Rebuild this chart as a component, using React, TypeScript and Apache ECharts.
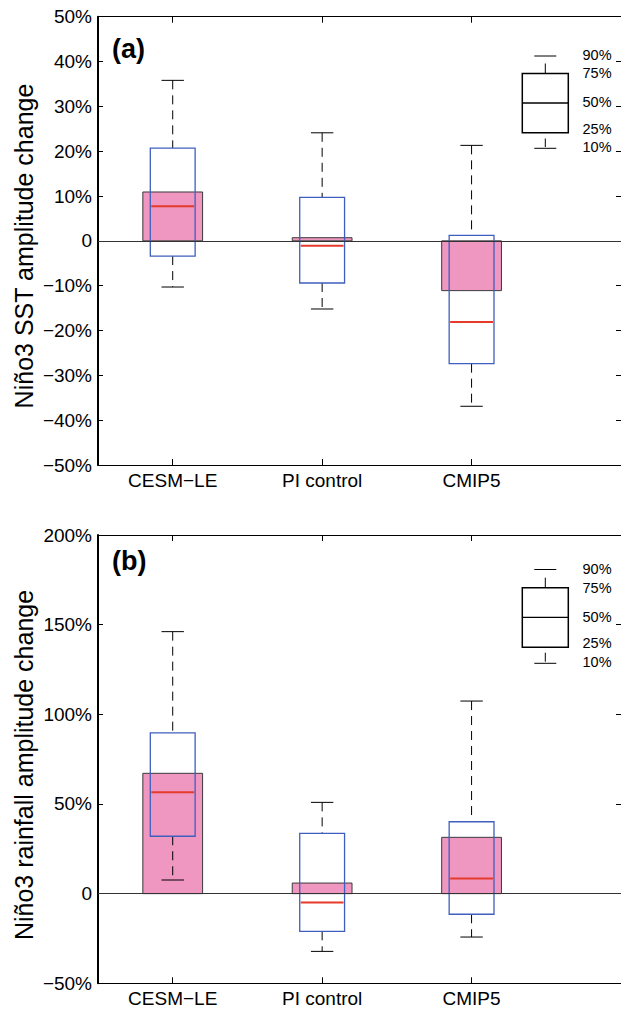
import React, { useEffect, useRef } from "react";
import * as echarts from "echarts";

// ---------- data ----------
const categories = ["CESM\u2212LE", "PI control", "CMIP5"];
const positions = [1, 2, 3];

// (a) Niño3 SST amplitude change (%)
const sstBar = [10.9, 0.7, -11.1];
const sstP10 = [-10.3, -15.2, -36.9];
const sstP25 = [-3.4, -9.4, -27.4];
const sstMedian = [7.7, -1.1, -18.1];
const sstP75 = [20.7, 9.7, 1.2];
const sstP90 = [35.8, 24.1, 21.3];

// (b) Niño3 rainfall amplitude change (%)
const rainBar = [67.1, 5.9, 31.4];
const rainP10 = [7.6, -32.2, -24.2];
const rainP25 = [32.0, -21.0, -11.5];
const rainMedian = [56.5, -5.0, 8.4];
const rainP75 = [89.6, 33.6, 40.1];
const rainP90 = [146.1, 50.9, 107.4];

const legendLabels = ["90%", "75%", "50%", "25%", "10%"];

// ---------- styles ----------
const FONT = '"Liberation Sans", Arial, Helvetica, sans-serif';
const PINK = "#EF96C1";
const BLUE = "#3F5FBE";
const RED = "#E63A2B";

const fmtPct = (v: number) => {
  if (Math.abs(v) < 1e-9) return "0";
  return (v < 0 ? "\u2212" + Math.abs(v) : String(v)) + "%";
};

function barItem(params: any, api: any) {
  const x = api.value(0);
  const v = api.value(1);
  const a = api.coord([x - 0.2, v]);
  const b = api.coord([x + 0.2, 0]);
  return {
    type: "rect",
    shape: {
      x: a[0],
      y: Math.min(a[1], b[1]),
      width: b[0] - a[0],
      height: Math.abs(b[1] - a[1]),
    },
    style: { fill: PINK, stroke: "#3a3a3a", lineWidth: 1 },
  };
}

function boxItem(params: any, api: any) {
  const x = api.value(0);
  const p10 = api.value(1);
  const p25 = api.value(2);
  const med = api.value(3);
  const p75 = api.value(4);
  const p90 = api.value(5);
  const hw = 0.15;
  const cw = 0.075;
  const c90 = api.coord([x, p90]);
  const c75 = api.coord([x, p75]);
  const c25 = api.coord([x, p25]);
  const c10 = api.coord([x, p10]);
  const boxL = api.coord([x - hw, p75]);
  const boxR = api.coord([x + hw, p25]);
  const mL = api.coord([x - hw, med]);
  const mR = api.coord([x + hw, med]);
  const capL90 = api.coord([x - cw, p90]);
  const capR90 = api.coord([x + cw, p90]);
  const capL10 = api.coord([x - cw, p10]);
  const capR10 = api.coord([x + cw, p10]);
  const dash = { stroke: "#000", lineWidth: 1, lineDash: [9, 6], fill: null };
  const solid = { stroke: "#000", lineWidth: 1, fill: null };
  return {
    type: "group",
    children: [
      { type: "line", shape: { x1: c90[0], y1: c90[1], x2: c75[0], y2: c75[1] }, style: dash },
      { type: "line", shape: { x1: c25[0], y1: c25[1], x2: c10[0], y2: c10[1] }, style: dash },
      { type: "line", shape: { x1: capL90[0], y1: capL90[1], x2: capR90[0], y2: capR90[1] }, style: solid },
      { type: "line", shape: { x1: capL10[0], y1: capL10[1], x2: capR10[0], y2: capR10[1] }, style: solid },
      {
        type: "rect",
        shape: { x: boxL[0], y: boxL[1], width: boxR[0] - boxL[0], height: boxR[1] - boxL[1] },
        style: { fill: "none", stroke: BLUE, lineWidth: 1.3 },
      },
      {
        type: "line",
        shape: { x1: mL[0] + 1, y1: mL[1], x2: mR[0] - 1, y2: mR[1] },
        style: { stroke: RED, lineWidth: 2, fill: null },
      },
    ],
  };
}

function legendKey(top: { cap90: number; stem90: [number, number]; box: [number, number]; med: number; stem10: [number, number]; cap10: number; labels: number[] }) {
  const cx = 545.3;
  const els: any[] = [];
  const ln = (x1: number, y1: number, x2: number, y2: number, w = 1) => ({
    type: "line",
    z: 100,
    silent: true,
    shape: { x1, y1, x2, y2 },
    style: { stroke: "#000", lineWidth: w },
  });
  els.push(ln(cx - 11, top.cap90, cx + 11, top.cap90));
  els.push(ln(cx, top.stem90[0], cx, top.stem90[1]));
  els.push({
    type: "rect",
    z: 100,
    silent: true,
    shape: { x: 522.3, y: top.box[0], width: 46, height: top.box[1] - top.box[0] },
    style: { fill: "none", stroke: "#000", lineWidth: 1.5 },
  });
  els.push(ln(522.3, top.med, 568.3, top.med, 1.3));
  els.push(ln(cx, top.stem10[0], cx, top.stem10[1]));
  els.push(ln(cx - 11, top.cap10, cx + 11, top.cap10));
  legendLabels.forEach((t, i) => {
    els.push({
      type: "text",
      z: 100,
      silent: true,
      x: 582.5,
      y: top.labels[i],
      style: {
        text: t,
        font: `14.5px ${FONT}`,
        fill: "#000",
        textAlign: "left",
        textVerticalAlign: "middle",
      },
    });
  });
  return els;
}

const GRID_LEFT = 98;
const GRID_W = 525;
const GRID_H = 448.3;
const TOP_A = 16.7;
const TOP_B = 535;

function xAxes(gridIndex: number) {
  const common = {
    gridIndex,
    type: "value",
    min: 0.5,
    max: 4,
    splitLine: { show: false },
    axisLine: { show: true, onZero: false, lineStyle: { color: "#000", width: 1 } },
    axisTick: { show: true, inside: true, length: 6, customValues: positions, lineStyle: { color: "#000", width: 1 } },
  };
  return [
    {
      ...common,
      position: "bottom",
      axisLabel: {
        show: true,
        customValues: positions,
        margin: 6,
        color: "#000",
        fontFamily: FONT,
        fontSize: 19,
        formatter: (v: number) => categories[Math.round(v) - 1] ?? "",
      },
    },
    { ...common, position: "top", axisLabel: { show: false } },
  ];
}

function yAxes(gridIndex: number, min: number, max: number, interval: number) {
  const common = {
    gridIndex,
    type: "value",
    min,
    max,
    interval,
    splitLine: { show: false },
    axisTick: { show: true, inside: true, length: 5, lineStyle: { color: "#000", width: 1 } },
  };
  return [
    {
      ...common,
      position: "left",
      axisLine: { show: true, onZero: false, lineStyle: { color: "#000", width: 2 } },
      axisLabel: { show: true, margin: 6, color: "#000", fontFamily: FONT, fontSize: 19, formatter: fmtPct },
    },
    {
      ...common,
      position: "right",
      axisLine: { show: true, onZero: false, lineStyle: { color: "#000", width: 1 } },
      axisLabel: { show: false },
    },
  ];
}

function seriesFor(idx: number, bar: number[], p10: number[], p25: number[], med: number[], p75: number[], p90: number[]) {
  const xAxisIndex = idx * 2;
  const yAxisIndex = idx * 2;
  return [
    {
      type: "custom",
      xAxisIndex,
      yAxisIndex,
      z: 2,
      silent: true,
      renderItem: barItem,
      encode: { x: 0, y: 1 },
      data: positions.map((p, i) => [p, bar[i]]),
      markLine: {
        silent: true,
        symbol: "none",
        label: { show: false },
        lineStyle: { color: "#333", width: 1, type: "solid" },
        data: [{ yAxis: 0 }],
      },
    },
    {
      type: "custom",
      xAxisIndex,
      yAxisIndex,
      z: 3,
      silent: true,
      renderItem: boxItem,
      encode: { x: 0, y: [1, 2, 3, 4, 5] },
      data: positions.map((p, i) => [p, p10[i], p25[i], med[i], p75[i], p90[i]]),
    },
  ];
}

export default function App() {
  const ref = useRef<HTMLDivElement>(null);
  useEffect(() => {
    if (!ref.current) return;
    const chart = echarts.init(ref.current, null, { renderer: "svg" });
    const option: any = {
      animation: false,
      backgroundColor: "#fff",
      grid: [
        { left: GRID_LEFT, top: TOP_A, width: GRID_W, height: GRID_H },
        { left: GRID_LEFT, top: TOP_B, width: GRID_W, height: GRID_H },
      ],
      xAxis: [...xAxes(0), ...xAxes(1)],
      yAxis: [...yAxes(0, -50, 50, 10), ...yAxes(1, -50, 200, 50)],
      series: [
        ...seriesFor(0, sstBar, sstP10, sstP25, sstMedian, sstP75, sstP90),
        ...seriesFor(1, rainBar, rainP10, rainP25, rainMedian, rainP75, rainP90),
      ],
      graphic: [
        {
          type: "text",
          x: 24,
          y: 246,
          rotation: Math.PI / 2,
          silent: true,
          style: {
            text: "Niño3 SST amplitude change",
            font: `25px ${FONT}`,
            fill: "#000",
            textAlign: "center",
            textVerticalAlign: "middle",
          },
        },
        {
          type: "text",
          x: 24,
          y: 765,
          rotation: Math.PI / 2,
          silent: true,
          style: {
            text: "Niño3 rainfall amplitude change",
            font: `25px ${FONT}`,
            fill: "#000",
            textAlign: "center",
            textVerticalAlign: "middle",
          },
        },
        {
          type: "text",
          x: 112,
          y: 49,
          silent: true,
          style: { text: "(a)", font: `bold 27px ${FONT}`, fill: "#000", textAlign: "left", textVerticalAlign: "middle" },
        },
        {
          type: "text",
          x: 112,
          y: 561,
          silent: true,
          style: { text: "(b)", font: `bold 27px ${FONT}`, fill: "#000", textAlign: "left", textVerticalAlign: "middle" },
        },
        ...legendKey({
          cap90: 56,
          stem90: [63.5, 73.5],
          box: [73.5, 132.7],
          med: 103,
          stem10: [138.5, 147],
          cap10: 148.3,
          labels: [55, 73.3, 102.3, 129.3, 147.3],
        }),
        ...legendKey({
          cap90: 569.5,
          stem90: [577.7, 587.7],
          box: [587.7, 647.3],
          med: 617.3,
          stem10: [652.7, 661.7],
          cap10: 663.3,
          labels: [569.3, 587.7, 616.7, 643.3, 662.3],
        }),
      ],
    };
    chart.setOption(option);
    return () => chart.dispose();
  }, []);
  return (
    <div
      ref={ref}
      style={{ position: "absolute", left: 0, top: 0, width: 621, height: 1009, background: "#fff" }}
    />
  );
}
